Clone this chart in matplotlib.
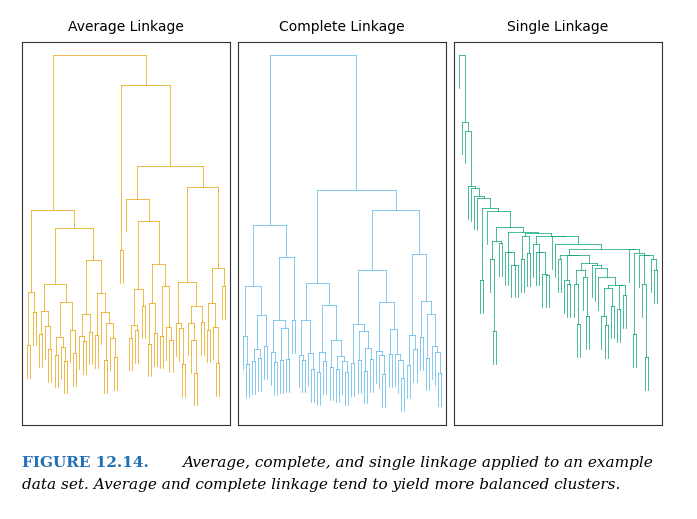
import numpy as np
import matplotlib
matplotlib.use("Agg")
import matplotlib.pyplot as plt

# example data set (2D points)
xs = [0.2,0.5,0.4,0.9,1.1,0.7,1.5,1.8,2.1,1.6,2.4,2.9,3.1,2.7,3.5,3.8,4.2,4.0,4.6,5.1,
      4.9,5.5,5.8,6.3,6.0,6.7,7.1,6.9,7.5,7.9,8.3,8.0,8.8,9.2,9.0,9.7,10.3,10.1,10.8,11.5,
      12.4,12.9,13.8,14.6,16.0,1.2,3.3,5.3,7.3,9.4,11.1,2.2,6.5,8.6,4.4,10.6,12.1,0.1,13.2,7.7,
      3.9,5.9,9.9,1.9,11.9]
ys = [1.1,0.6,1.9,0.3,1.4,2.5,0.9,2.2,1.5,3.1,0.4,2.8,1.2,3.9,2.1,0.7,3.3,1.8,4.4,2.6,
      0.9,3.7,1.5,4.9,2.9,0.5,3.4,1.9,5.2,2.4,4.1,0.8,3.0,5.6,1.6,4.5,2.2,6.1,3.6,0.9,
      5.0,2.7,6.8,1.3,4.0,4.8,5.4,6.0,6.4,7.0,7.5,6.6,7.9,2.9,7.2,5.2,3.5,3.3,4.6,1.1,
      0.2,5.1,3.2,4.3,1.9]
methods = ["Average Linkage", "Complete Linkage", "Single Linkage"]
colors = ["#E69F00", "#56B4E9", "#009E73"]

P = np.column_stack([xs, ys])

def linkage(P, method):
    n = len(P)
    D = np.sqrt(((P[:, None] - P[None]) ** 2).sum(-1))
    clusters = {i: [i] for i in range(n)}
    merges = []
    nid = n
    while len(clusters) > 1:
        keys = list(clusters)
        best = None
        for a in range(len(keys)):
            for b in range(a + 1, len(keys)):
                sub = D[np.ix_(clusters[keys[a]], clusters[keys[b]])]
                d = {"Average Linkage": sub.mean(), "Complete Linkage": sub.max(),
                     "Single Linkage": sub.min()}[method]
                if best is None or d < best[0]:
                    best = (d, keys[a], keys[b])
        d, a, b = best
        merges.append((a, b, d, nid))
        clusters[nid] = clusters.pop(a) + clusters.pop(b)
        nid += 1
    return merges

fig = plt.figure(figsize=(6.97, 5.19), dpi=100)
lefts = [22, 238, 454]
for k, m in enumerate(methods):
    merges = linkage(P, m)
    n = len(P)
    children = {nid: (a, b, d) for a, b, d, nid in merges}
    root = merges[-1][3]
    H = merges[-1][2]
    hang = 0.1 * H
    order = []
    def trav(c):
        if c < n:
            order.append(c)
        else:
            trav(children[c][0]); trav(children[c][1])
    trav(root)
    pos = {leaf: i for i, leaf in enumerate(order)}
    ax = fig.add_axes([lefts[k] / 697, 1 - 425 / 519, 208 / 697, 383 / 519])
    def draw(c):
        if c < n:
            return pos[c], None
        a, b, d = children[c]
        xa, ha = draw(a); xb, hb = draw(b)
        for xx, hh in ((xa, ha), (xb, hb)):
            lo = (d - hang) if hh is None else hh
            ax.plot([xx, xx], [lo, d], color=colors[k], lw=0.5)
        ax.plot([xa, xb], [d, d], color=colors[k], lw=0.5)
        return (xa + xb) / 2, d
    draw(root)
    ax.set_xlim(-1.5, n + 0.5)
    ax.set_ylim(-hang - 0.03 * H, H * 1.04)
    ax.set_xticks([]); ax.set_yticks([])
    for s in ax.spines.values():
        s.set_linewidth(0.8); s.set_color("#333333")
    ax.set_title(m, fontsize=10, pad=8)

fig.text(22 / 697, 1 - 463 / 519, "FIGURE 12.14.", family="DejaVu Serif", weight="bold",
         color="#1f6fb2", fontsize=11, va="center")
fig.text(182 / 697, 1 - 463 / 519,
         "Average, complete, and single linkage applied to an example",
         family="DejaVu Serif", style="italic", fontsize=11, va="center")
fig.text(22 / 697, 1 - 485 / 519,
         "data set. Average and complete linkage tend to yield more balanced clusters.",
         family="DejaVu Serif", style="italic", fontsize=11, va="center")
fig.savefig("out.png", dpi=100)
